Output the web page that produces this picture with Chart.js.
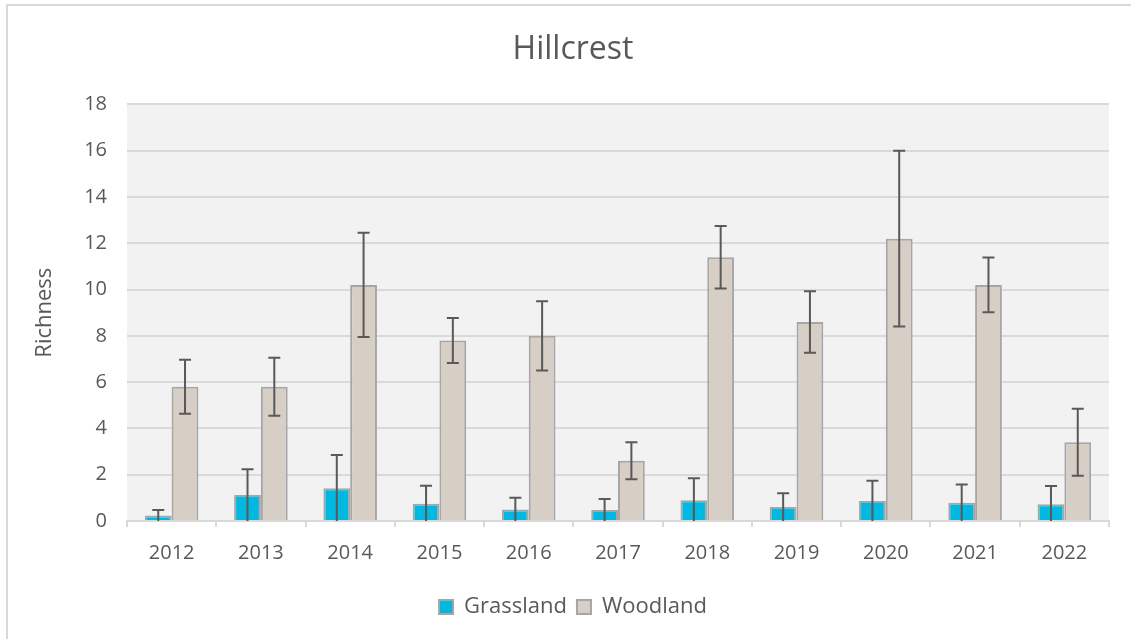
<!DOCTYPE html>
<html>
<head>
<meta charset="utf-8">
<script src="https://cdn.jsdelivr.net/npm/chart.js@4"></script>
<style>
  html, body { margin: 0; padding: 0; background: #fff; }
  #wrap { position: relative; width: 1131px; height: 639px; }
</style>
</head>
<body>
<div id="wrap"><canvas id="grafico"></canvas></div>
<script>
// dados
const anos = ['2012', '2013', '2014', '2015', '2016', '2017', '2018', '2019', '2020', '2021', '2022'];
const grassland = [0.24, 1.12, 1.42, 0.74, 0.5, 0.47, 0.9, 0.6, 0.86, 0.79, 0.72];
const grasslandErro = [0.24, 1.12, 1.43, 0.78, 0.5, 0.48, 0.95, 0.6, 0.88, 0.79, 0.79];
const woodland = [5.8, 5.8, 10.2, 7.8, 8.0, 2.6, 11.4, 8.6, 12.2, 10.2, 3.4];
const woodlandErro = [1.17, 1.25, 2.25, 0.97, 1.5, 0.8, 1.35, 1.33, 3.8, 1.18, 1.45];
const yTicks = [0, 2, 4, 6, 8, 10, 12, 14, 16, 18];

const fonte = "'Open Sans', 'Noto Sans', sans-serif";
const cinzaTexto = '#595959';

// fundo da área do gráfico e moldura externa
const fundoPlugin = {
    id: 'fundo',
    beforeDraw(chart) {
        const ctx = chart.ctx;
        const a = chart.chartArea;
        ctx.save();
        ctx.fillStyle = '#ffffff';
        ctx.fillRect(0, 0, chart.width, chart.height);
        ctx.strokeStyle = '#d9d9d9';
        ctx.lineWidth = 2;
        ctx.beginPath();
        ctx.moveTo(7, chart.height);
        ctx.lineTo(7, 5);
        ctx.lineTo(chart.width, 5);
        ctx.stroke();
        ctx.fillStyle = '#f2f2f2';
        ctx.fillRect(a.left, a.top, a.right - a.left, a.bottom - a.top);
        ctx.restore();
    }
};

// barras de erro desenhadas pela escala y
const erroPlugin = {
    id: 'barrasErro',
    afterDatasetsDraw(chart) {
        const ctx = chart.ctx;
        const y = chart.scales.y;
        const erros = [grasslandErro, woodlandErro];
        ctx.save();
        ctx.strokeStyle = '#595959';
        ctx.lineWidth = 2;
        chart.data.datasets.forEach((ds, i) => {
            const meta = chart.getDatasetMeta(i);
            meta.data.forEach((bar, j) => {
                const v = ds.data[j];
                const e = erros[i][j];
                const topo = y.getPixelForValue(v + e);
                const baixo = Math.max(0, v - e);
                const yBaixo = y.getPixelForValue(baixo);
                const x = bar.x;
                const meia = 6;
                ctx.beginPath();
                ctx.moveTo(x, topo);
                ctx.lineTo(x, yBaixo);
                ctx.moveTo(x - meia, topo);
                ctx.lineTo(x + meia, topo);
                if (baixo > 0) {
                    ctx.moveTo(x - meia, yBaixo);
                    ctx.lineTo(x + meia, yBaixo);
                }
                ctx.stroke();
            });
        });
        ctx.restore();
    }
};

const canvas = document.getElementById('grafico');
new Chart(canvas.getContext('2d'), {
    type: 'bar',
    data: {
        labels: anos,
        datasets: [
            { label: 'Grassland', data: grassland, backgroundColor: '#00b8e0', borderColor: '#a6a6a6', borderWidth: 2 },
            { label: 'Woodland', data: woodland, backgroundColor: '#d7cec5', borderColor: '#a6a6a6', borderWidth: 2 }
        ]
    },
    options: {
        responsive: true,
        maintainAspectRatio: false,
        animation: false,
        devicePixelRatio: 1,
        layout: { padding: { left: 37, right: 22, top: 0, bottom: 11 } },
        datasets: { bar: { categoryPercentage: 0.6, barPercentage: 1.0 } },
        plugins: {
            title: {
                display: true,
                text: 'Hillcrest',
                color: cinzaTexto,
                font: { family: fonte, size: 32, weight: 'normal' },
                padding: { top: 31, bottom: 35 }
            },
            legend: {
                position: 'bottom',
                labels: {
                    color: cinzaTexto,
                    font: { family: fonte, size: 22 },
                    boxWidth: 14,
                    boxHeight: 14,
                    padding: 10
                }
            },
            tooltip: { enabled: false }
        },
        scales: {
            x: {
                grid: { display: true, drawOnChartArea: false, drawTicks: true, tickLength: 6, color: '#d9d9d9', lineWidth: 2, offset: true },
                border: { display: true, color: '#d9d9d9', width: 2 },
                ticks: { color: cinzaTexto, font: { family: fonte, size: 20 }, padding: 14, maxRotation: 0 },
                afterFit(scale) { scale.height = 65; }
            },
            y: {
                min: 0,
                max: 18,
                afterBuildTicks(scale) { scale.ticks = yTicks.map(v => ({ value: v })); },
                grid: { color: '#d9d9d9', lineWidth: 2, drawTicks: false },
                border: { display: false },
                ticks: { color: cinzaTexto, font: { family: fonte, size: 20 }, padding: 20 },
                title: { display: true, text: 'Richness', color: cinzaTexto, font: { family: fonte, size: 22 }, padding: { top: -5, bottom: 10 } },
                afterFit(scale) { scale.width = 90; }
            }
        }
    },
    plugins: [fundoPlugin, erroPlugin]
});
</script>
</body>
</html>
